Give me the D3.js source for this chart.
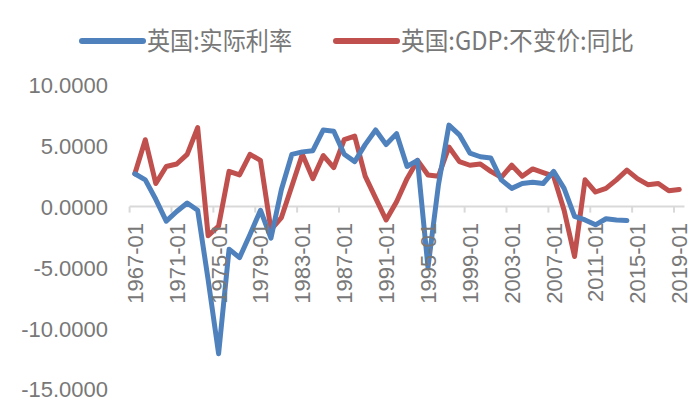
<!DOCTYPE html>
<html>
<head>
<meta charset="utf-8">
<script src="https://cdn.jsdelivr.net/npm/d3@7"></script>
<style>
  html, body { margin: 0; padding: 0; background: #ffffff; }
  svg { display: block; }
</style>
</head>
<body>
<svg id="chart" width="700" height="414"></svg>
<script>
const years = d3.range(1967, 2020);
const categories = years.map(y => y + "-01");

const seriesNames = ["英国:实际利率", "英国:GDP:不变价:同比"];

const realRate = [
  2.7, 2.2, 0.6, -1.2, -0.4, 0.3, -0.3, -6.0, -12.1, -3.5,
  -4.2, -2.3, -0.3, -2.6, 1.4, 4.3, 4.5, 4.6, 6.3, 6.2,
  4.3, 3.7, 5.1, 6.3, 5.1, 6.0, 3.3, 3.8, -5.0, 1.8,
  6.7, 5.9, 4.4, 4.1, 4.0, 2.2, 1.5, 1.9, 2.0, 1.9,
  2.9, 1.5, -0.8, -1.1, -1.5, -1.0, -1.1, -1.15,
  null, null, null, null, null
];

const gdpYoY = [
  2.7, 5.5, 1.9, 3.3, 3.5, 4.3, 6.5, -2.4, -1.6, 2.9,
  2.6, 4.3, 3.8, -1.9, -0.9, 1.7, 4.3, 2.3, 4.2, 3.2,
  5.5, 5.8, 2.5, 0.7, -1.1, 0.4, 2.3, 3.8, 2.6, 2.5,
  4.9, 3.7, 3.4, 3.5, 2.9, 2.4, 3.4, 2.5, 3.1, 2.8,
  2.5, -0.3, -4.1, 2.2, 1.2, 1.5, 2.2, 3.0, 2.3, 1.8,
  1.9, 1.3, 1.4
];

const yTicks = [10, 5, 0, -5, -10, -15];
const xLabelEvery = 4;

const colors = ["#4f81bd", "#c0504d"];
const textColor = "#787878";
const font = "'Liberation Sans', Arial, sans-serif";
const cjkFont = "'Noto Sans CJK SC', 'Liberation Sans', sans-serif";

const svg = d3.select("#chart");

const x = d3.scaleBand().domain(categories).range([129.6, 684.5]).paddingInner(0).paddingOuter(0);
const y = d3.scaleLinear().domain([-15, 10]).range([389, 85]);
const cx = c => x(c) + x.bandwidth() / 2;

// Y axis labels (no axis line)
const fmt = d3.format(".4f");
const yAxis = d3.axisLeft(y).tickValues(yTicks)
  .tickFormat(d => fmt(d).replace("\u2212", "-"))
  .tickSize(0).tickPadding(0);
const yg = svg.append("g").attr("transform", "translate(108,0)").call(yAxis);
yg.select(".domain").remove();
yg.selectAll("text")
  .attr("fill", textColor)
  .style("font-family", font)
  .style("font-size", "22px")
  .attr("dy", "0.36em");

// Category (zero) axis
const zeroY = y(0);
svg.append("line")
  .attr("x1", x.range()[0]).attr("x2", x.range()[1])
  .attr("y1", zeroY).attr("y2", zeroY)
  .attr("stroke", "#d9d9d9").attr("stroke-width", 2);

const labeled = categories.filter((c, i) => i % xLabelEvery === 0);
svg.append("g").selectAll("line").data(labeled).join("line")
  .attr("x1", d => x(d)).attr("x2", d => x(d))
  .attr("y1", zeroY).attr("y2", zeroY + 6)
  .attr("stroke", "#d9d9d9").attr("stroke-width", 2);

// Series lines
const lineGen = d3.line()
  .defined(d => d.v !== null)
  .x(d => cx(d.c))
  .y(d => y(d.v));

const seriesData = [realRate, gdpYoY];
[1, 0].forEach(si => {
  const pts = categories.map((c, i) => ({ c, v: seriesData[si][i] }));
  svg.append("path")
    .datum(pts)
    .attr("d", lineGen)
    .attr("fill", "none")
    .attr("stroke", colors[si])
    .attr("stroke-width", 5)
    .attr("stroke-linejoin", "round")
    .attr("stroke-linecap", "round");
});

// X labels, rotated
svg.append("g").selectAll("text").data(labeled).join("text")
  .attr("transform", d => `translate(${cx(d)},223) rotate(-90)`)
  .attr("text-anchor", "end")
  .attr("dy", "0.36em")
  .attr("fill", textColor)
  .style("font-family", font)
  .style("font-size", "22px")
  .text(d => d);

// Legend
const legend = [
  { name: seriesNames[0], color: colors[0], x1: 82, x2: 143, tx: 147, tw: 145 },
  { name: seriesNames[1], color: colors[1], x1: 336, x2: 397, tx: 401, tw: 233 }
];
const lg = svg.append("g");
legend.forEach(l => {
  lg.append("line")
    .attr("x1", l.x1).attr("x2", l.x2)
    .attr("y1", 41).attr("y2", 41)
    .attr("stroke", l.color).attr("stroke-width", 6)
    .attr("stroke-linecap", "round");
  lg.append("text")
    .attr("x", l.tx).attr("y", 41)
    .attr("dy", "0.36em")
    .attr("fill", textColor)
    .attr("textLength", l.tw)
    .attr("lengthAdjust", "spacingAndGlyphs")
    .style("font-family", cjkFont)
    .style("font-size", "25px")
    .text(l.name);
});
</script>
</body>
</html>
